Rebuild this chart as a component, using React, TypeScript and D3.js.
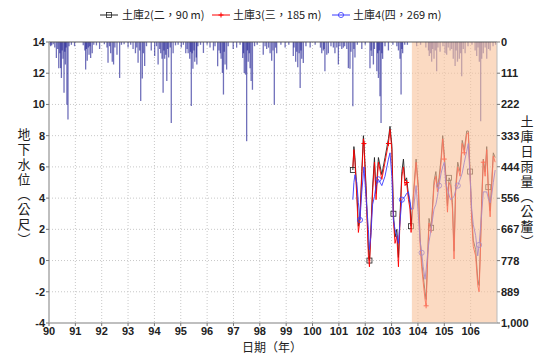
import React from "react";
import * as d3 from "d3";

// ---- Data ----
const xTicks = [90, 91, 92, 93, 94, 95, 96, 97, 98, 99, 100, 101, 102, 103, 104, 105, 106];
const yTicks = [-4, -2, 0, 2, 4, 6, 8, 10, 12, 14];
const rainTicks = [0, 111, 222, 333, 444, 556, 667, 778, 889, 1000];
const seriesNames = ["土庫2(二，90 m)", "土庫3(三，185 m)", "土庫4(四，269 m)"];
const shadeRange = [103.77, 107];

const gwDates = [
  101.53, 101.57, 101.61, 101.68, 101.74, 101.8, 101.87, 101.93, 101.95, 102.03, 102.12, 102.16, 102.21, 102.28,
  102.35, 102.41, 102.5, 102.63, 102.75, 102.88, 102.94, 103.01, 103.07, 103.13, 103.2, 103.26, 103.32, 103.39,
  103.45, 103.51, 103.57, 103.64, 103.7, 103.74, 103.83, 103.93, 104.02, 104.08, 104.14, 104.2, 104.27, 104.31,
  104.37, 104.42, 104.5, 104.55, 104.61, 104.68, 104.74, 104.8, 104.88, 104.94, 105.0, 105.05, 105.12, 105.18,
  105.24, 105.31, 105.37, 105.43, 105.51, 105.6, 105.68, 105.76, 105.85, 105.91, 105.98, 106.04, 106.1, 106.19,
  106.27, 106.32, 106.37, 106.42, 106.48, 106.55, 106.61, 106.67, 106.74, 106.8, 106.86, 106.93,
];
const gw2 = [
  5.8, 7.3, 6.6, 4.5, 2.2, 2.9, 5.7, 8.0, 7.6, 4.8, 0.8, 0.0, 1.8, 4.7,
  6.6, 4.3, 6.6, 5.5, 6.6, 7.8, 8.6, 7.4, 3.0, 1.5, 2.0, 0.2, 2.9, 5.7,
  6.5, 5.1, 5.3, 4.2, 3.6, 2.2, 4.3, 6.5, 4.7, 1.5, 0.0, -1.0, -2.0, -2.5,
  0.4, 2.7, 2.1, 3.4, 5.1, 5.7, 4.7, 5.3, 6.6, 8.0, 6.8, 5.7, 3.5, 5.3,
  5.1, 3.7, 0.6, 4.7, 6.3, 5.7, 7.7, 7.1, 8.3, 8.3, 5.7, 3.0, 1.3, 0.7,
  -1.2, -1.6, 0.8, 4.0, 6.5, 5.7, 7.3, 4.7, 3.2, 5.1, 6.9, 6.6,
];
const gw3 = [
  6.0, 7.1, 6.3, 4.1, 1.8, 2.6, 5.4, 7.8, 7.5, 4.4, 0.3, -0.4, 1.6, 4.4,
  6.3, 3.9, 6.3, 5.2, 6.3, 7.5, 8.4, 7.1, 2.6, 1.1, 1.6, -0.4, 2.6, 5.4,
  6.0, 4.8, 5.0, 3.9, 3.3, 1.8, 4.1, 6.3, 4.4, 1.1, -0.4, -1.4, -2.5, -2.9,
  0.1, 2.4, 1.8, 3.1, 4.8, 5.4, 4.4, 5.0, 6.3, 7.8, 6.5, 5.4, 3.1, 5.0,
  4.8, 3.3, 0.1, 4.4, 6.0, 5.4, 7.5, 6.9, 8.1, 8.2, 5.4, 2.6, 0.9, 0.3,
  -1.6, -2.0, 0.5, 3.7, 6.3, 5.4, 7.1, 4.4, 2.8, 4.8, 6.7, 6.3,
];
const gw4 = [
  3.9, 5.0, 5.5, 5.0, 3.7, 2.6, 4.4, 5.6, 6.0, 4.1, 2.0, 0.7, 1.5, 3.6,
  4.1, 4.8, 5.2, 4.8, 5.4, 6.5, 6.9, 5.4, 2.6, 2.0, 1.6, 1.1, 2.5, 3.9,
  4.0, 4.1, 4.3, 4.4, 3.8, 3.3, 3.3, 4.8, 2.8, 1.3, 0.5, -0.4, -1.2, -0.6,
  0.5, 1.2, 2.0, 2.6, 3.3, 3.6, 4.1, 4.8, 5.6, 6.0, 6.3, 5.0, 4.6, 4.2,
  3.9, 4.0, 4.1, 4.5, 4.8, 5.2, 5.6, 6.3, 7.0, 7.5, 5.3, 3.3, 2.3, 1.6,
  0.3, 1.0, 2.0, 3.0, 4.4, 4.4, 4.4, 4.0, 3.7, 4.2, 5.0, 5.8,
];

const rainDates = [
  90.03, 90.06, 90.1, 90.16, 90.22, 90.28, 90.33, 90.37, 90.41, 90.44, 90.47, 90.5, 90.53, 90.57, 90.6, 90.62, 90.65, 90.68, 90.72, 90.76, 90.85, 90.97,
  91.3, 91.36, 91.39, 91.42, 91.45, 91.49, 91.52, 91.55, 91.58, 91.64, 91.7, 91.8, 91.92,
  92.1, 92.2, 92.24, 92.3, 92.34, 92.4, 92.45, 92.5, 92.58, 92.68, 92.75, 92.85,
  93.0, 93.1, 93.19, 93.28, 93.33, 93.38, 93.44, 93.48, 93.54, 93.58, 93.63, 93.7, 93.88,
  94.01, 94.08, 94.14, 94.2, 94.24, 94.29, 94.33, 94.36, 94.39, 94.43, 94.47, 94.5, 94.54, 94.6, 94.64, 94.71, 94.8, 94.9,
  95.02, 95.1, 95.19, 95.24, 95.28, 95.34, 95.37, 95.4, 95.43, 95.46, 95.5, 95.53, 95.59, 95.61, 95.65, 95.75,
  95.86, 96.0, 96.11, 96.24, 96.3, 96.4, 96.45, 96.5, 96.53, 96.58, 96.62, 96.65, 96.68, 96.74, 96.8, 96.99, 97.12,
  97.25, 97.35, 97.38, 97.41, 97.46, 97.5, 97.53, 97.56, 97.6, 97.63, 97.67, 97.72, 97.8, 97.9,
  98.13, 98.2, 98.26, 98.33, 98.39, 98.45, 98.5, 98.55, 98.6, 98.64, 98.8, 98.96,
  99.1, 99.27, 99.3, 99.36, 99.4, 99.44, 99.49, 99.53, 99.56, 99.59, 99.65, 99.75, 99.91,
  100.1, 100.3, 100.35, 100.41, 100.44, 100.47, 100.54, 100.6, 100.7, 100.79, 100.85, 100.92, 100.98, 101.04, 101.11,
  101.17, 101.22, 101.3, 101.36, 101.42, 101.46, 101.53, 101.57, 101.61, 101.7, 101.87, 102.0,
  102.18, 102.22, 102.25, 102.31, 102.35, 102.44, 102.47, 102.5, 102.53, 102.56, 102.6, 102.63, 102.66, 102.75, 102.88,
  103.05, 103.2, 103.26, 103.32, 103.36, 103.39, 103.42, 103.5, 103.6,
  103.95, 104.1, 104.3, 104.4, 104.43, 104.48, 104.52, 104.56, 104.61, 104.66, 104.71, 104.76, 104.84, 104.95,
  105.03, 105.09, 105.15, 105.22, 105.28, 105.34, 105.41, 105.45, 105.5, 105.57, 105.62, 105.66, 105.72, 105.79, 105.9,
  106.05, 106.17, 106.23, 106.28, 106.33, 106.38, 106.42, 106.48, 106.55, 106.61, 106.68, 106.74, 106.85, 106.95,
];
const rainMm = [
  10, 15, 12, 8, 20, 57, 25, 93, 40, 93, 128, 30, 60, 181, 35, 80, 20, 223, 276, 15, 10, 15,
  12, 30, 98, 25, 67, 20, 45, 15, 57, 40, 10, 12, 25,
  8, 20, 74, 15, 40, 70, 80, 20, 45, 128, 10, 8,
  20, 10, 25, 40, 20, 74, 30, 210, 130, 40, 85, 15, 30,
  50, 15, 80, 25, 40, 60, 181, 30, 60, 45, 139, 25, 55, 20, 288, 40, 12, 10,
  20, 10, 40, 25, 40, 60, 35, 228, 40, 95, 30, 70, 55, 80, 15, 10,
  39, 10, 20, 30, 15, 86, 30, 40, 60, 110, 187, 35, 80, 98, 15, 25, 20,
  10, 57, 40, 110, 116, 353, 30, 70, 40, 93, 139, 170, 15, 10,
  45, 15, 25, 20, 40, 67, 30, 223, 20, 40, 10, 20,
  10, 50, 20, 70, 35, 90, 40, 164, 30, 60, 75, 15, 20,
  10, 20, 40, 30, 25, 104, 45, 40, 15, 20, 40, 20, 80, 15, 25,
  20, 15, 25, 93, 95, 35, 229, 25, 55, 10, 25, 10,
  93, 30, 50, 80, 25, 104, 40, 128, 30, 193, 288, 40, 60, 15, 30,
  10, 15, 30, 60, 187, 25, 40, 10, 10,
  15, 10, 20, 30, 50, 40, 70, 25, 60, 30, 104, 20, 35, 15,
  40, 45, 20, 30, 25, 60, 85, 30, 70, 60, 40, 122, 25, 40, 15,
  10, 30, 50, 20, 70, 282, 60, 40, 20, 60, 25, 30, 15, 10,
];

// ---- Layout ----
const W = 538;
const H = 354;
const L = 49;
const R = 497;
const T = 42;
const B = 323;

const fontNum = "'Liberation Sans', Arial, sans-serif";
const fontCJK = "'Noto Sans CJK TC', 'Noto Sans CJK SC', sans-serif";

export default function App() {
  const x = d3.scaleLinear().domain([90, 107]).range([L, R]);
  const y = d3.scaleLinear().domain([-4, 14]).range([B, T]);
  const yR = d3.scaleLinear().domain([0, 1000]).range([T, B]);
  const fmt = d3.format(",");

  const colors = ["#222222", "#ff0000", "#3a3aff"];
  const seriesVals = [gw2, gw3, gw4];
  const line = d3
    .line<number>()
    .x((_, i) => x(gwDates[i]))
    .y((v) => y(v));

  const markerIdx = (offset: number) => gwDates.map((_, i) => i).filter((i) => (i + offset) % 11 === 0);

  const marker = (s: number, cx: number, cy: number, key: string) => {
    if (s === 0)
      return <rect key={key} x={cx - 2.5} y={cy - 2.5} width={5} height={5} fill="none" stroke={colors[0]} strokeWidth={0.8} />;
    if (s === 1)
      return (
        <path key={key} d={`M${cx - 2.5},${cy}H${cx + 2.5}M${cx},${cy - 2.5}V${cy + 2.5}`} stroke={colors[1]} strokeWidth={1} />
      );
    return <circle key={key} cx={cx} cy={cy} r={2.6} fill="none" stroke={colors[2]} strokeWidth={0.8} />;
  };

  const legendItems = [
    { lx: 100, tx: 122 },
    { lx: 212, tx: 233 },
    { lx: 332, tx: 353 },
  ];

  const vertStyle: React.CSSProperties = { writingMode: "vertical-rl" as any, letterSpacing: "2px" };

  return (
    <svg width={W} height={H} style={{ position: "absolute", left: 0, top: 0, background: "#fff" }}>
      {/* grid */}
      {xTicks.slice(1).map((t) => (
        <line key={"gx" + t} x1={x(t)} x2={x(t)} y1={T} y2={B} stroke="#c8c8c8" strokeWidth={1} strokeDasharray="1,2" />
      ))}
      {yTicks.slice(1, -1).map((t) => (
        <line key={"gy" + t} x1={L} x2={R} y1={y(t)} y2={y(t)} stroke="#c8c8c8" strokeWidth={1} strokeDasharray="1,2" />
      ))}

      {/* rain bars */}
      <g stroke="#10108c" strokeOpacity={0.6} strokeWidth={1.3}>
        {rainDates.map((d, i) => (
          <line key={"r" + i} x1={x(d)} x2={x(d)} y1={yR(0)} y2={yR(rainMm[i])} />
        ))}
      </g>

      {/* groundwater lines */}
      {seriesVals.map((vals, s) => (
        <g key={"s" + s}>
          <path d={line(vals) || ""} fill="none" stroke={colors[s]} strokeWidth={1} strokeOpacity={0.9} />
          {markerIdx(s * 3).map((i) => marker(s, x(gwDates[i]), y(vals[i]), `m${s}-${i}`))}
        </g>
      ))}

      {/* shaded overlay */}
      <rect
        x={x(shadeRange[0])}
        y={T}
        width={x(shadeRange[1]) - x(shadeRange[0])}
        height={B - T}
        fill="#f8c29a"
        fillOpacity={0.6}
      />

      {/* frame */}
      <line x1={L} x2={R} y1={T} y2={T} stroke="#555" strokeWidth={1} />
      <line x1={L} x2={L} y1={T} y2={B} stroke="#aaa" strokeWidth={1.5} />
      <line x1={L} x2={R} y1={B} y2={B} stroke="#aaa" strokeWidth={1.5} />
      <line x1={R} x2={R} y1={T} y2={B} stroke="#bbb" strokeWidth={1} />

      {/* left ticks */}
      {yTicks.map((t) => (
        <g key={"yt" + t}>
          <line x1={L - 3} x2={L} y1={y(t)} y2={y(t)} stroke="#777" />
          <text
            x={L - 4}
            y={y(t) + 4}
            textAnchor="end"
            fontFamily={fontNum}
            fontWeight="bold"
            fontSize={11}
            fill="#222"
          >
            {t}
          </text>
        </g>
      ))}
      {/* right ticks */}
      {rainTicks.map((t) => (
        <g key={"rt" + t}>
          <line x1={R} x2={R + 3} y1={yR(t)} y2={yR(t)} stroke="#777" />
          <text x={R + 4} y={yR(t) + 4} fontFamily={fontNum} fontWeight="bold" fontSize={11} fill="#222">
            {fmt(t)}
          </text>
        </g>
      ))}
      {/* x ticks */}
      {xTicks.map((t) => (
        <g key={"xt" + t}>
          <line x1={x(t)} x2={x(t)} y1={B} y2={B + 3} stroke="#777" />
          <text x={x(t)} y={B + 12} textAnchor="middle" fontFamily={fontNum} fontWeight="bold" fontSize={11} fill="#222">
            {t}
          </text>
        </g>
      ))}

      {/* axis titles */}
      <text x={24} y={128} fontFamily={fontCJK} fontSize={13} fill="#222" style={vertStyle}>
        地下水位（公尺）
      </text>
      <text x={527} y={115} fontFamily={fontCJK} fontSize={13} fill="#222" style={vertStyle}>
        土庫日雨量（公釐）
      </text>
      <text x={272} y={352} textAnchor="middle" fontFamily={fontCJK} fontSize={12} fill="#222">
        日期（年）
      </text>

      {/* legend */}
      {legendItems.map((it, s) => (
        <g key={"lg" + s}>
          <line x1={it.lx} x2={it.lx + 18} y1={15} y2={15} stroke={colors[s]} strokeWidth={1} />
          {marker(s, it.lx + 9, 15, "lm" + s)}
          <text x={it.tx} y={19} fontFamily={fontCJK} fontSize={11} fill="#222">
            {seriesNames[s]}
          </text>
        </g>
      ))}
    </svg>
  );
}
